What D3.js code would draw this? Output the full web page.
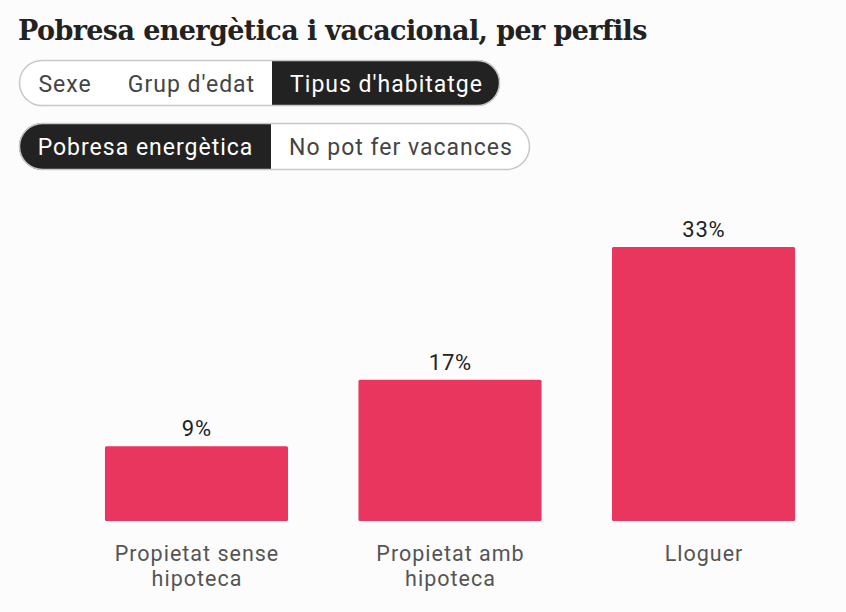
<!DOCTYPE html>
<html><head><meta charset="utf-8">
<script src="https://cdn.jsdelivr.net/npm/d3@7"></script>
<style>
body{margin:0;background:#fcfcfc;}
svg{display:block;}
</style></head>
<body>
<svg id="c" width="846" height="612"></svg>
<script>
const title = "Pobresa energètica i vacacional, per perfils";
const groupTabs = ["Sexe", "Grup d'edat", "Tipus d'habitatge"];
const groupSelected = 2;
const metricTabs = ["Pobresa energètica", "No pot fer vacances"];
const metricSelected = 0;
const categories = [["Propietat sense", "hipoteca"], ["Propietat amb", "hipoteca"], ["Lloguer"]];
const values = [9, 17, 33];

const svg = d3.select("#c");
svg.append("rect").attr("width",846).attr("height",612).attr("fill","#fcfcfc");

svg.append("text").attr("x",18).attr("y",40).text(title)
  .attr("font-family","'DejaVu Serif', serif").attr("font-weight","bold")
  .attr("font-size",27).attr("fill","#222").attr("letter-spacing",-0.6);

function tabs(y, h, items, sel, segs){
  const g = svg.append("g");
  const x0 = segs[0], x1 = segs[segs.length-1];
  const r = h/2;
  const clipId = "clip"+y;
  g.append("clipPath").attr("id",clipId).append("rect")
    .attr("x",x0).attr("y",y).attr("width",x1-x0).attr("height",h).attr("rx",r);
  g.append("rect").attr("x",x0).attr("y",y).attr("width",x1-x0).attr("height",h).attr("rx",r)
    .attr("fill","#fff");
  g.append("rect").attr("clip-path",`url(#${clipId})`)
    .attr("x",segs[sel]).attr("y",y).attr("width",segs[sel+1]-segs[sel]).attr("height",h)
    .attr("fill","#222");
  g.append("rect").attr("x",x0+0.5).attr("y",y+0.5).attr("width",x1-x0-1).attr("height",h-1).attr("rx",r-0.5)
    .attr("fill","none").attr("stroke","#c8c8c8").attr("stroke-width",1.5);
  items.forEach((t,i)=>{
    g.append("text").attr("x",(segs[i]+segs[i+1])/2 + 0.5).attr("y",y+h/2+8.5)
      .attr("text-anchor","middle").attr("font-family","Roboto, sans-serif")
      .attr("font-size",23).attr("letter-spacing",1).attr("fill", i===sel?"#fff":"#444").text(t);
  });
}
tabs(60, 46, groupTabs, groupSelected, [19, 110, 272, 500]);
tabs(123, 47, metricTabs, metricSelected, [19, 271, 530]);

const x = d3.scaleBand().domain(d3.range(values.length)).range([72, 828])
  .paddingInner(0.278).paddingOuter(0.13);
const y = d3.scaleLinear().domain([0, 33]).range([521, 247]);

svg.selectAll("rect.bar").data(values).join("rect").attr("class","bar")
  .attr("x",(d,i)=>x(i)).attr("width",x.bandwidth())
  .attr("y",d=>y(d)).attr("height",d=>y(0)-y(d)).attr("rx",1.5)
  .attr("fill","#e9365e");

svg.selectAll("text.val").data(values).join("text").attr("class","val")
  .attr("x",(d,i)=>x(i)+x.bandwidth()/2 + 0.4).attr("y",d=>y(d)-10)
  .attr("text-anchor","middle").attr("font-family","Roboto, sans-serif")
  .attr("font-size",22).attr("letter-spacing",0.8).attr("fill","#222").text(d=>d+"%");

categories.forEach((lines,i)=>{
  const cx = x(i)+x.bandwidth()/2 + 0.5;
  const t = svg.append("text").attr("x",cx).attr("y",561)
    .attr("text-anchor","middle").attr("font-family","Roboto, sans-serif")
    .attr("font-size",21.5).attr("letter-spacing",1).attr("fill","#555");
  lines.forEach((l,j)=>{
    t.append("tspan").attr("x",cx).attr("dy", j===0?0:25.2).text(l);
  });
});
</script>
</body></html>
